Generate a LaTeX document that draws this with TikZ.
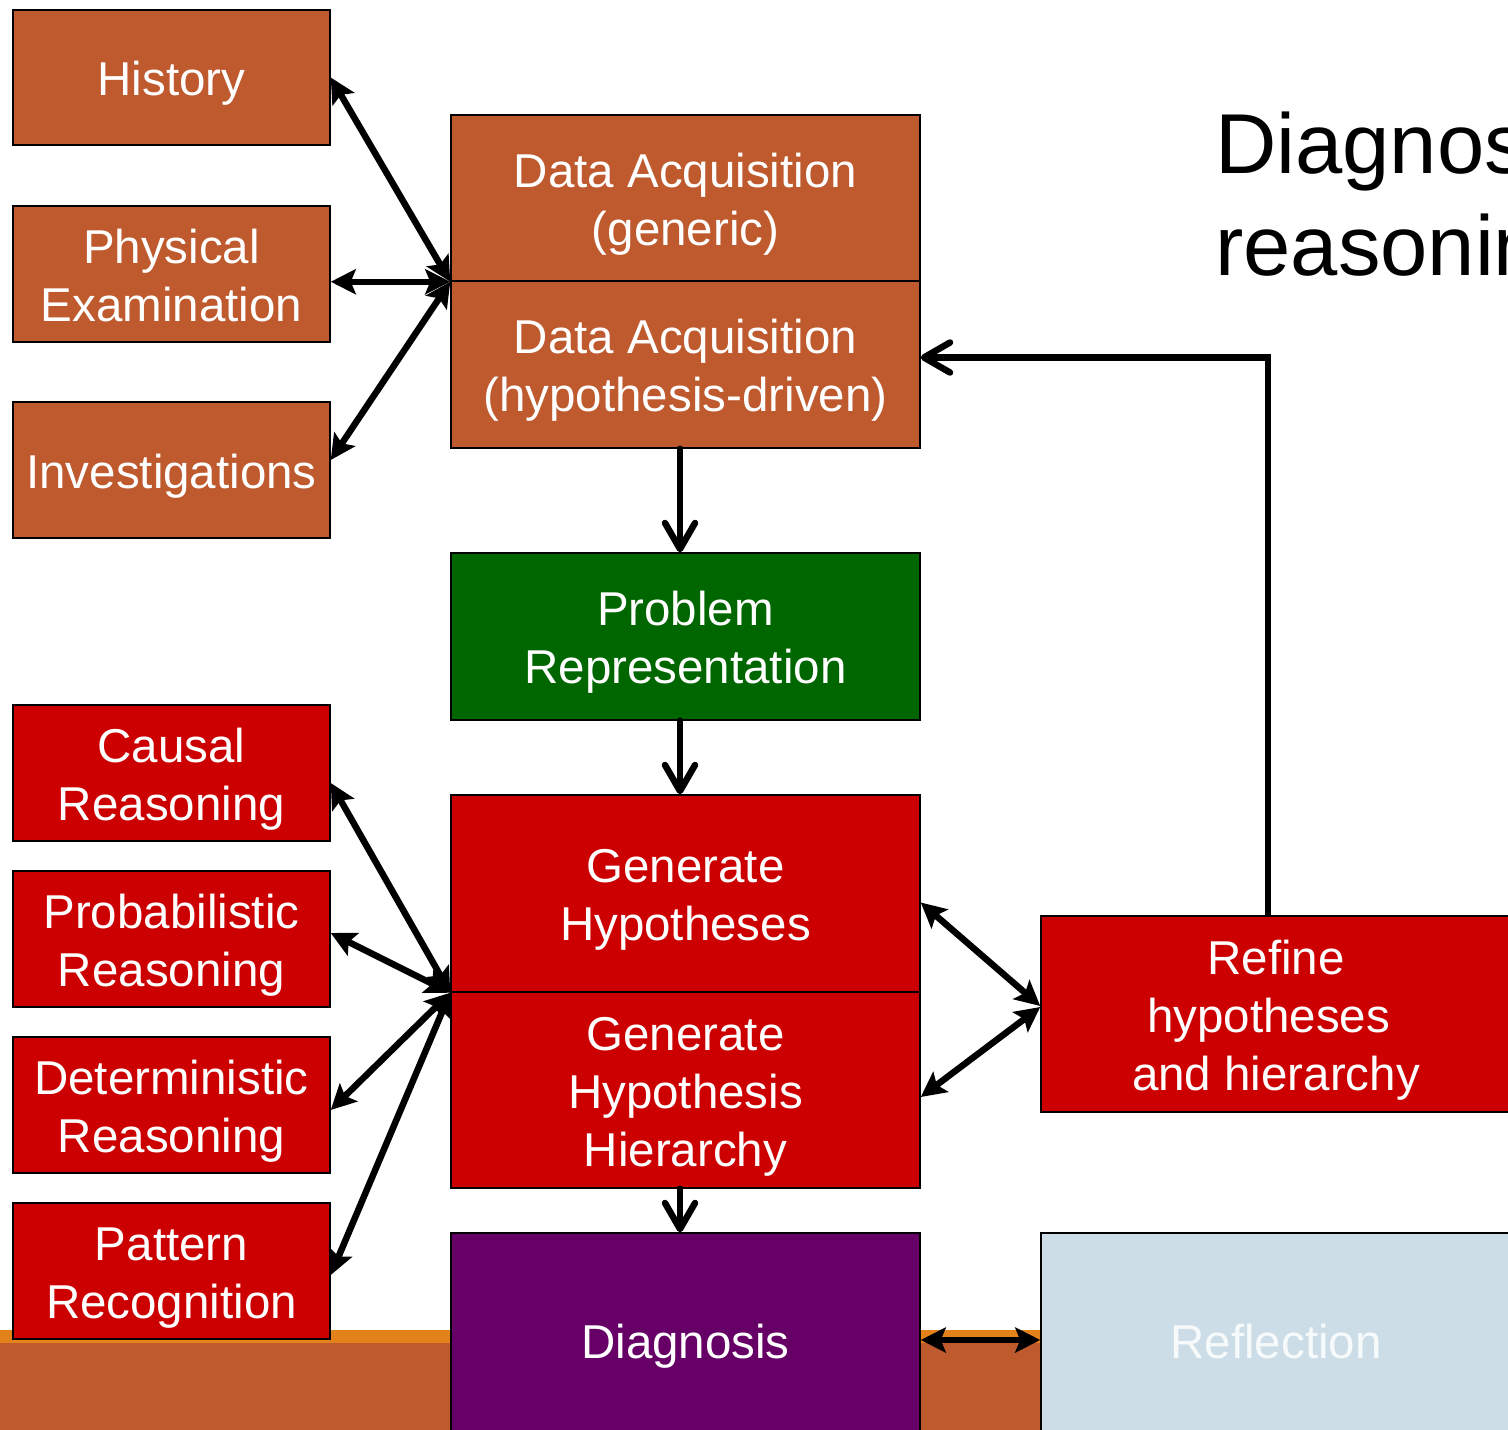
\documentclass[tikz,border=0pt]{standalone}
\usepackage{fontspec}
\setmainfont{Liberation Sans}
\usetikzlibrary{arrows.meta}
\definecolor{rust}{HTML}{BE5A2E}
\definecolor{dxred}{HTML}{CC0000}
\definecolor{dxgreen}{HTML}{006600}
\definecolor{dxpurple}{HTML}{660066}
\definecolor{dxpale}{HTML}{CCDDE8}
\definecolor{dxorange}{HTML}{E3821A}
% strut giving each text line the ascent and descent of the font
\newcommand\lnstrut{\rule[-0.19em]{0pt}{1.17em}}
\begin{document}
\begin{tikzpicture}[x=1pt,y=-1pt,
  box/.style={draw=black, line width=1.5pt, text=white, align=center,
    inner sep=0pt, font=\fontsize{47.5}{58}\selectfont},
  smallbox/.style={box, minimum width=317pt, minimum height=136pt},
  widebox/.style={box, minimum width=469pt},
  title/.style={inner sep=0pt, anchor=base west, font=\fontsize{85}{102}\selectfont},
  dbl/.style={line width=6.5pt,
    {Stealth[length=25pt,width=25pt,inset=5pt]}-{Stealth[length=25pt,width=25pt,inset=5pt]}},
  flow/.style={line width=6.5pt, line cap=round,
    -{Straight Barb[length=26pt,width=30pt,round]}},
  loopback/.style={line width=6.5pt,
    -{Straight Barb[length=26pt,width=30pt,round]}}]
\useasboundingbox (0,0) rectangle (1508,1430);
\clip (0,0) rectangle (1508,1430);

% footer band
\fill[dxorange] (0,1330) rectangle (1508,1343);
\fill[rust] (0,1343) rectangle (1508,1430);

% title
\node[title] (t1) at (1215,173) {Diagnostic};
\node[title] (t2) at (1215,275) {reasoning};

% data sources
\node[smallbox, fill=rust, minimum height=135pt] (hist) at (171.5,77.5) {\lnstrut History};
\node[smallbox, fill=rust] (phys) at (171.5,274) {\lnstrut Physical\\\lnstrut Examination};
\node[smallbox, fill=rust] (inv) at (171.5,470) {\lnstrut Investigations};

% data acquisition
\node[widebox, fill=rust, minimum height=166pt] (dag) at (685.5,198) {\lnstrut Data Acquisition\\\lnstrut (generic)};
\node[widebox, fill=rust, minimum height=167pt] (dah) at (685.5,364.5) {\lnstrut Data Acquisition\\\lnstrut (hypothesis-driven)};

% problem representation
\node[widebox, fill=dxgreen, minimum height=167pt] (prob) at (685.5,636.5) {\lnstrut Problem\\\lnstrut Representation};

% reasoning modes
\node[smallbox, fill=dxred] (caus) at (171.5,773) {\lnstrut Causal\\\lnstrut Reasoning};
\node[smallbox, fill=dxred] (prb) at (171.5,939) {\lnstrut Probabilistic\\\lnstrut Reasoning};
\node[smallbox, fill=dxred] (det) at (171.5,1105) {\lnstrut Deterministic\\\lnstrut Reasoning};
\node[smallbox, fill=dxred] (pat) at (171.5,1271) {\lnstrut Pattern\\\lnstrut Recognition};

% hypotheses
\node[widebox, fill=dxred, minimum height=197pt] (gh) at (685.5,893.5) {\lnstrut Generate\\\lnstrut Hypotheses};
\node[widebox, fill=dxred, minimum height=196pt] (ghh) at (685.5,1090) {\lnstrut Generate\\\lnstrut Hypothesis\\\lnstrut Hierarchy};
\node[box, fill=dxred, minimum width=470pt, minimum height=196pt] (ref) at (1276,1014) {\lnstrut Refine\\\lnstrut hypotheses\hspace*{15pt}\mbox{}\\\lnstrut and hierarchy};

% outcome
\node[widebox, fill=dxpurple, minimum height=214pt] (dia) at (685.5,1340) {\lnstrut Diagnosis};
\node[box, fill=dxpale, minimum width=470pt, minimum height=214pt, text=white!85!dxpale] (refl) at (1276,1340) {\lnstrut Reflection};

% data sources <-> acquisition
\draw[dbl] (hist.east) -- (dag.south west);
\draw[dbl] (phys.east |- dag.south west) -- (dag.south west);
\draw[dbl] ([yshift=10pt]inv.east) -- (dag.south west);

% main flow
\draw[flow] ([xshift=-5.5pt]dah.south) -- ([xshift=-5.5pt]prob.north);
\draw[flow] ([xshift=-5.5pt]prob.south) -- ([xshift=-5.5pt]gh.north);
\draw[flow] ([xshift=-5.5pt]ghh.south) -- ([xshift=-5.5pt]dia.north);

% reasoning modes <-> hypotheses
\draw[dbl] ([yshift=-10pt]caus.east) -- (gh.south west);
\draw[dbl] ([yshift=6pt]prb.east) -- (gh.south west);
\draw[dbl] ([yshift=-5pt]det.east) -- (gh.south west);
\draw[dbl] ([yshift=-4pt]pat.east) -- (gh.south west);

% hypotheses <-> refinement
\draw[dbl] ([yshift=-9pt]gh.east) -- ([yshift=8pt]ref.west);
\draw[dbl] ([yshift=-7pt]ghh.east) -- ([yshift=7pt]ref.west);

% refinement loops back to hypothesis-driven acquisition
\draw[loopback] ([xshift=-8pt]ref.north) |- ([yshift=7pt]dah.east);

% diagnosis <-> reflection
\draw[dbl] (dia.east) -- (refl.west);
\end{tikzpicture}
\end{document}
